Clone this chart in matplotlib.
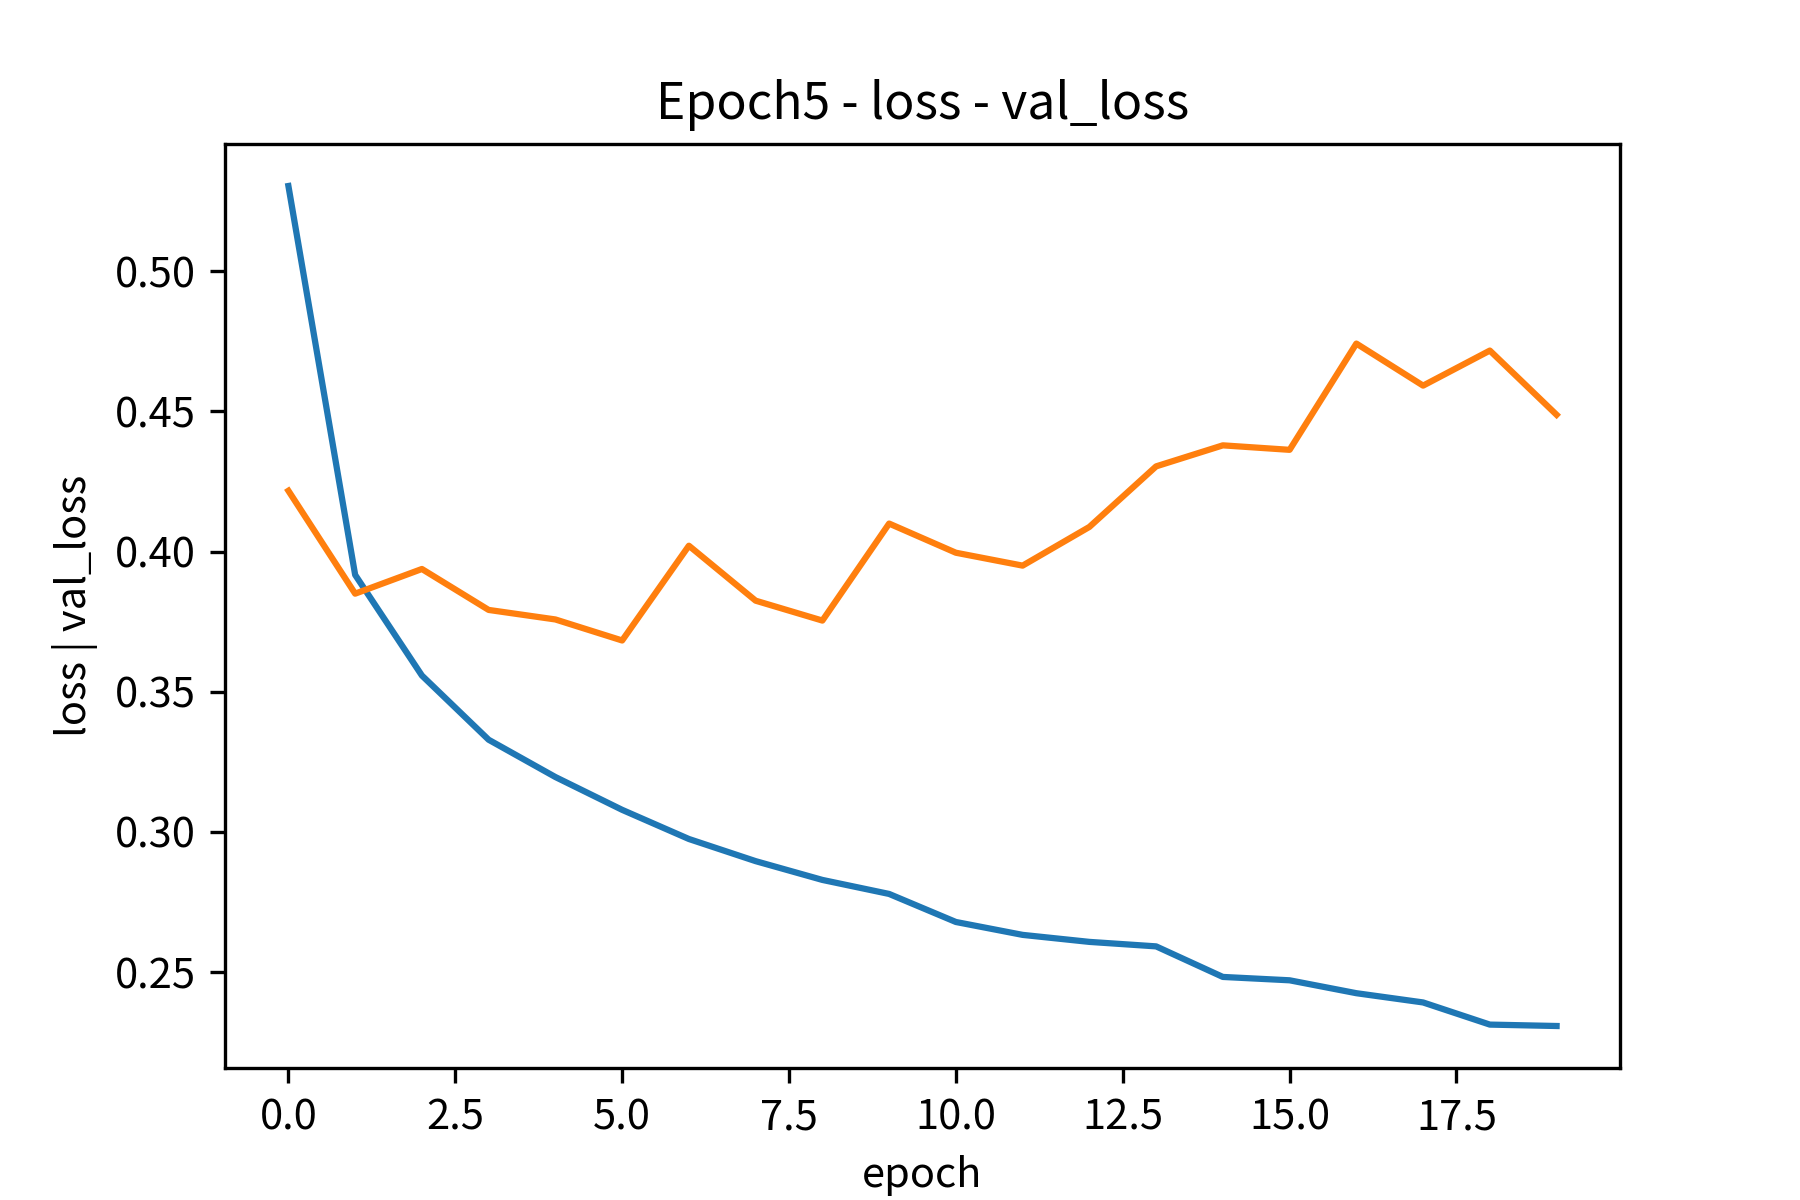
import matplotlib
matplotlib.use("Agg")
import matplotlib.pyplot as plt

plt.rcParams['font.family'] = ['Noto Sans CJK KR', 'DejaVu Sans']

epochs = list(range(20))
loss = [0.5304, 0.3917, 0.3558, 0.3329, 0.3196, 0.3079, 0.2975, 0.2896, 0.2829, 0.2779,
        0.2679, 0.2633, 0.2608, 0.2592, 0.2483, 0.2471, 0.2425, 0.2392, 0.2313, 0.2308]
val_loss = [0.4217, 0.3850, 0.3938, 0.3792, 0.3758, 0.3683, 0.4021, 0.3825, 0.3754, 0.4100,
            0.3996, 0.3950, 0.4088, 0.4304, 0.4379, 0.4363, 0.4742, 0.4592, 0.4717, 0.4488]

fig, ax = plt.subplots(figsize=(6, 4), dpi=300)
ax.plot(epochs, loss)
ax.plot(epochs, val_loss)
ax.set_title("Epoch5 - loss - val_loss")
ax.set_xlabel("epoch")
ax.set_ylabel("loss | val_loss")
fig.savefig("out.png")
